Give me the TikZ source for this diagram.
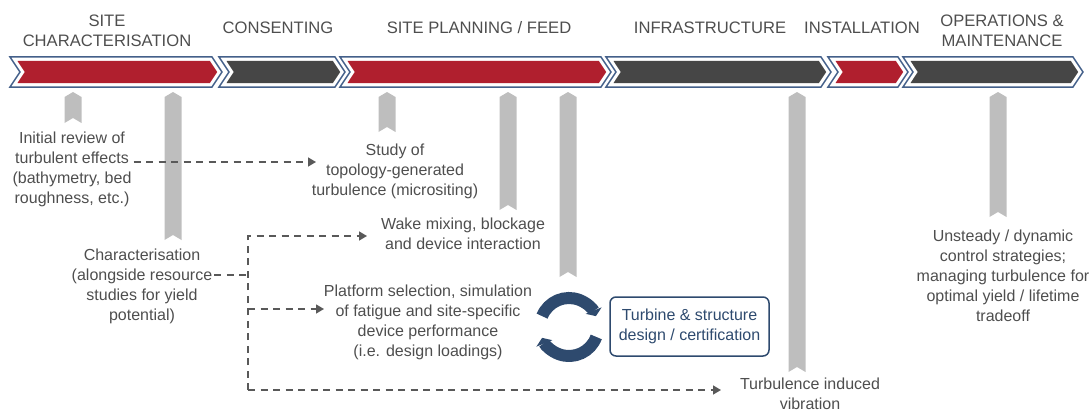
\documentclass[tikz,border=0pt]{standalone}
\usepackage{fontspec}
\setmainfont{Liberation Sans}
\usetikzlibrary{arrows.meta, positioning}
\definecolor{stagered}{RGB}{176,31,46}
\definecolor{stagedark}{RGB}{70,70,70}
\definecolor{stageline}{RGB}{68,96,138}
\definecolor{barcol}{RGB}{190,190,190}
\definecolor{navycol}{RGB}{46,74,110}
\definecolor{textcol}{RGB}{78,78,78}
\tikzset{
  phase/.style={font=\fontsize{16.6}{19.5}\selectfont, text=textcol,
                align=center, inner sep=0pt},
  note/.style={font=\fontsize{16}{20}\selectfont, text=textcol,
               align=center, inner sep=2pt},
  stage outline/.style={draw=stageline, line width=1.5pt, fill=white},
  bar/.style={fill=barcol},
  dash line/.style={line width=1.4pt, black!65, dash pattern=on 7pt off 5.5pt},
  dash arr/.style={dash line, -{Triangle[length=8pt, width=9pt]}},
  cycle arr/.style={navycol, line width=12pt, -{Triangle[length=6pt, width=17pt]}},
  design box/.style={draw=navycol, rounded corners=6pt, line width=1.5pt,
                     text=navycol, font=\fontsize{16}{20}\selectfont, align=center,
                     minimum width=159pt, minimum height=59pt},
}
% one stage of the timeline band: left x, right x, fill colour
\newcommand{\stagechevron}[3]{%
  \draw[stage outline] (#1,57) -- (#2,57) -- (#2+10,72) -- (#2,87) -- (#1,87) -- (#1+10,72) -- cycle;
  \fill[#3] (#1+7.5,61) -- (#2-2.1,61) -- (#2+5.2,72) -- (#2-2.1,83) -- (#1+7.5,83) -- (#1+14.8,72) -- cycle;}
% grey marker hanging from the band: centre x, bottom y
\newcommand{\milestone}[2]{%
  \fill[bar] (#1-8.5,97) -- (#1,92) -- (#1+8.5,97) -- (#1+8.5,#2) -- (#1,#2-5) -- (#1-8.5,#2) -- cycle;}

\begin{document}
\begin{tikzpicture}[x=1pt, y=-1pt]
    \useasboundingbox (0,0) rectangle (1092,412);

    % timeline band
    \stagechevron{10}{212}{stagered}
    \stagechevron{219}{335}{stagedark}
    \stagechevron{340}{601}{stagered}
    \stagechevron{606}{821}{stagedark}
    \stagechevron{828}{898}{stagered}
    \stagechevron{903}{1073}{stagedark}

    \node[phase] (ph_site) at (107,31) {SITE\\CHARACTERISATION};
    \node[phase] (ph_consent) at (278,28) {CONSENTING};
    \node[phase] (ph_plan) at (479,28) {SITE PLANNING / FEED};
    \node[phase] (ph_infra) at (710,28) {INFRASTRUCTURE};
    \node[phase] (ph_install) at (862,28) {INSTALLATION};
    \node[phase] (ph_ops) at (1002,31) {OPERATIONS \&\\MAINTENANCE};

    % markers
    \milestone{73}{123}
    \milestone{173}{240}
    \milestone{387}{132}
    \milestone{508}{210}
    \milestone{568}{277}
    \milestone{797}{372}
    \milestone{998}{217}

    \node[note] (review_txt) at (72,169) {Initial review of\\turbulent effects\\(bathymetry, bed\\roughness, etc.)};
    \node[note] (char_txt) at (142,286) {Characterisation\\(alongside resource\\studies for yield\\potential)};
    \node[note] (study_txt) at (395,171) {Study of\\topology-generated\\turbulence (micrositing)};
    \node[note] (wake_txt) at (463,234) {Wake mixing, blockage\\and device interaction};
    \node[note] (platform_txt) at (428,322) {Platform selection, simulation\\of fatigue and site-specific\\device performance\\(i.e. design loadings)};
    \node[design box] (design_box) at (689.5,326.5) {Turbine \& structure\\design / certification};
    \node[note] (vibr_txt) at (810,394) {Turbulence induced\\vibration};
    \node[note] (ops_txt) at (1003,276) {Unsteady / dynamic\\control strategies;\\managing turbulence for\\optimal yield / lifetime\\tradeoff};

    % design loop
    \coordinate (cyc) at (569,327);
    \draw[cycle arr] ([shift={(-158:29)}]cyc) arc[start angle=-158, end angle=-22, radius=29];
    \draw[cycle arr] ([shift={(20:29)}]cyc) arc[start angle=20, end angle=158, radius=29];

    % dashed links
    \coordinate (study_in) at (316,162);
    \draw[dash arr] (review_txt.east |- study_in) -- (study_in);
    \coordinate (trunk_top) at (248,236);
    \coordinate (trunk_mid) at (248,275);
    \coordinate (trunk_plat) at (248,309);
    \coordinate (trunk_bot) at (248,390);
    \coordinate (wake_in) at (367,236);
    \coordinate (platform_in) at (324,309);
    \coordinate (vibr_in) at (721,390);
    \draw[dash line] (char_txt.east |- trunk_mid) -- (trunk_mid);
    \draw[dash arr] (trunk_bot) |- (wake_in);
    \draw[dash arr] (trunk_plat) -- (platform_in);
    \draw[dash arr] (trunk_bot) -- (vibr_in);
\end{tikzpicture}
\end{document}
